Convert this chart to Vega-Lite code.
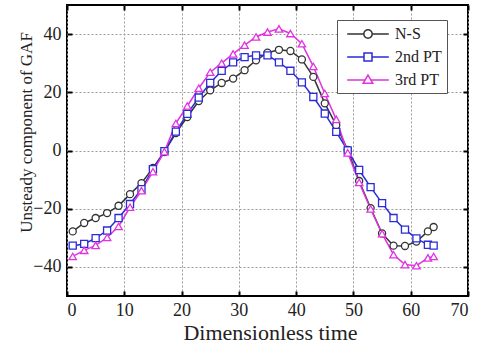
{
  "$schema": "https://vega.github.io/schema/vega-lite/v6.json",
  "width": 401,
  "height": 291,
  "autosize": {"type": "none"},
  "padding": {"left": 67, "top": 5, "right": 11, "bottom": 51},
  "background": "white",
  "config": {
    "font": "Liberation Serif",
    "view": {"stroke": "black", "strokeWidth": 2},
    "axis": {
      "labelFont": "Liberation Serif",
      "titleFont": "Liberation Serif",
      "labelColor": "#222222",
      "titleColor": "#222222",
      "titleFontWeight": "normal",
      "domain": false,
      "tickColor": "black",
      "tickWidth": 2,
      "tickSize": -5,
      "gridColor": "#9a9a9a",
      "gridDash": [2, 2],
      "gridWidth": 1
    }
  },
  "datasets": {
    "gaf": [
      {"s": "N-S", "t": 1, "v": -27.8}, {"s": "N-S", "t": 3, "v": -24.9}, {"s": "N-S", "t": 5, "v": -23.2}, {"s": "N-S", "t": 7, "v": -21.5},
      {"s": "N-S", "t": 9, "v": -19}, {"s": "N-S", "t": 11, "v": -15}, {"s": "N-S", "t": 13, "v": -11.2}, {"s": "N-S", "t": 15, "v": -6},
      {"s": "N-S", "t": 17, "v": -0.5}, {"s": "N-S", "t": 19, "v": 6}, {"s": "N-S", "t": 21, "v": 11.5}, {"s": "N-S", "t": 23, "v": 17},
      {"s": "N-S", "t": 25, "v": 20.7}, {"s": "N-S", "t": 27, "v": 23.2}, {"s": "N-S", "t": 29, "v": 24.7}, {"s": "N-S", "t": 31, "v": 27.6},
      {"s": "N-S", "t": 33, "v": 31.0}, {"s": "N-S", "t": 35, "v": 33.6}, {"s": "N-S", "t": 37, "v": 34.6}, {"s": "N-S", "t": 39, "v": 34.2},
      {"s": "N-S", "t": 41, "v": 31.3}, {"s": "N-S", "t": 43, "v": 25.3}, {"s": "N-S", "t": 45, "v": 16.2}, {"s": "N-S", "t": 47, "v": 8.7},
      {"s": "N-S", "t": 49, "v": 0.2}, {"s": "N-S", "t": 51, "v": -10.5}, {"s": "N-S", "t": 53, "v": -19.8}, {"s": "N-S", "t": 55, "v": -28.5},
      {"s": "N-S", "t": 57, "v": -32.7}, {"s": "N-S", "t": 59, "v": -32.8}, {"s": "N-S", "t": 61, "v": -31.3}, {"s": "N-S", "t": 63, "v": -27.8},
      {"s": "N-S", "t": 64, "v": -26.3},
      {"s": "2nd PT", "t": 1, "v": -32.7}, {"s": "2nd PT", "t": 3, "v": -32.1}, {"s": "2nd PT", "t": 5, "v": -30.1}, {"s": "2nd PT", "t": 7, "v": -27.5},
      {"s": "2nd PT", "t": 9, "v": -23.2}, {"s": "2nd PT", "t": 11, "v": -18.4}, {"s": "2nd PT", "t": 13, "v": -13.3}, {"s": "2nd PT", "t": 15, "v": -6.4},
      {"s": "2nd PT", "t": 17, "v": -0.2}, {"s": "2nd PT", "t": 19, "v": 6.5}, {"s": "2nd PT", "t": 21, "v": 12.6}, {"s": "2nd PT", "t": 23, "v": 18.2},
      {"s": "2nd PT", "t": 25, "v": 23.2}, {"s": "2nd PT", "t": 27, "v": 27.4}, {"s": "2nd PT", "t": 29, "v": 30.3}, {"s": "2nd PT", "t": 31, "v": 32.1},
      {"s": "2nd PT", "t": 33, "v": 32.7}, {"s": "2nd PT", "t": 35, "v": 32.7}, {"s": "2nd PT", "t": 37, "v": 30.3}, {"s": "2nd PT", "t": 39, "v": 27.4},
      {"s": "2nd PT", "t": 41, "v": 23.4}, {"s": "2nd PT", "t": 43, "v": 18.4}, {"s": "2nd PT", "t": 45, "v": 12.7}, {"s": "2nd PT", "t": 47, "v": 6.4},
      {"s": "2nd PT", "t": 49, "v": 0}, {"s": "2nd PT", "t": 51, "v": -6.7}, {"s": "2nd PT", "t": 53, "v": -12.6}, {"s": "2nd PT", "t": 55, "v": -18.1},
      {"s": "2nd PT", "t": 57, "v": -23.2}, {"s": "2nd PT", "t": 59, "v": -27.2}, {"s": "2nd PT", "t": 61, "v": -30.2}, {"s": "2nd PT", "t": 63, "v": -32.4},
      {"s": "2nd PT", "t": 64, "v": -32.7},
      {"s": "3rd PT", "t": 1, "v": -36.4}, {"s": "3rd PT", "t": 3, "v": -34.3}, {"s": "3rd PT", "t": 5, "v": -32.6}, {"s": "3rd PT", "t": 7, "v": -29.9},
      {"s": "3rd PT", "t": 9, "v": -26.1}, {"s": "3rd PT", "t": 11, "v": -19.5}, {"s": "3rd PT", "t": 13, "v": -13.8}, {"s": "3rd PT", "t": 15, "v": -7.3},
      {"s": "3rd PT", "t": 17, "v": -0.4}, {"s": "3rd PT", "t": 19, "v": 9.3}, {"s": "3rd PT", "t": 21, "v": 15.3}, {"s": "3rd PT", "t": 23, "v": 21.4},
      {"s": "3rd PT", "t": 25, "v": 26.9}, {"s": "3rd PT", "t": 27, "v": 30}, {"s": "3rd PT", "t": 29, "v": 33.2}, {"s": "3rd PT", "t": 31, "v": 36.2},
      {"s": "3rd PT", "t": 33, "v": 39}, {"s": "3rd PT", "t": 35, "v": 40.7}, {"s": "3rd PT", "t": 37, "v": 41.8}, {"s": "3rd PT", "t": 39, "v": 40.2},
      {"s": "3rd PT", "t": 41, "v": 36.7}, {"s": "3rd PT", "t": 43, "v": 28.9}, {"s": "3rd PT", "t": 45, "v": 19.6}, {"s": "3rd PT", "t": 47, "v": 10.7},
      {"s": "3rd PT", "t": 49, "v": -0.8}, {"s": "3rd PT", "t": 51, "v": -11}, {"s": "3rd PT", "t": 53, "v": -20.1}, {"s": "3rd PT", "t": 55, "v": -28.6},
      {"s": "3rd PT", "t": 57, "v": -35.8}, {"s": "3rd PT", "t": 59, "v": -39.2}, {"s": "3rd PT", "t": 61, "v": -39.6}, {"s": "3rd PT", "t": 63, "v": -36.9},
      {"s": "3rd PT", "t": 64, "v": -36.4}
    ]
  },
  "data": {"name": "gaf"},
  "resolve": {"axis": {"x": "independent", "y": "independent"}},
  "layer": [
    {
      "mark": {"type": "line", "strokeWidth": 1.5},
      "encoding": {
        "x": {
          "field": "t", "type": "quantitative",
          "scale": {"domain": [0, 70], "nice": false, "zero": false},
          "axis": {"orient": "bottom", "values": [0, 10, 20, 30, 40, 50, 60, 70], "ticks": false, "title": "Dimensionless time", "titleFont": "Liberation Serif", "titleFontSize": 22, "titleBaseline": "alphabetic", "titleY": 43, "titleX": 203, "labelFont": "Liberation Serif", "labelFontSize": 18, "grid": true, "labelPadding": 5}
        },
        "y": {
          "field": "v", "type": "quantitative",
          "scale": {"domain": [-50, 50], "nice": false},
          "axis": {"orient": "left", "values": [-40, -20, 0, 20, 40], "ticks": false, "title": "Unsteady component of GAF", "titleFont": "Liberation Serif", "titleFontSize": 17, "titleAngle": 270, "titleAlign": "center", "titleBaseline": "alphabetic", "titleX": -36, "titleY": 127, "labelFont": "Liberation Serif", "labelFontSize": 18, "grid": true, "labelPadding": 6}
        },
        "color": {
          "field": "s", "type": "nominal",
          "scale": {"domain": ["N-S", "2nd PT", "3rd PT"], "range": ["#333333", "#2b2bd9", "#e033e0"]},
          "legend": {
            "orient": "none", "legendX": 270, "legendY": 15, "title": null,
            "padding": 5, "strokeColor": "#555555", "fillColor": "white",
            "labelFont": "Liberation Serif", "labelFontSize": 16, "labelColor": "#222222",
            "symbolSize": 256, "symbolStrokeWidth": 1.5, "symbolOffset": 17, "labelOffset": 18, "rowPadding": 6,
            "encode": {
              "symbols": {
                "update": {
                  "shape": {"signal": "datum.value === 'N-S' ? 'M-2.6,0H-0.52M0.52,0H2.6M-0.52,0A0.52,0.52 0 1,1 0.52,0A0.52,0.52 0 1,1 -0.52,0Z' : datum.value === '2nd PT' ? 'M-2.6,0H-0.5M0.5,0H2.6M-0.5,-0.5H0.5V0.5H-0.5Z' : 'M-2.6,0H-0.36M0.36,0H2.6M0,-0.62L0.6,0.42H-0.6Z'"},
                  "fill": {"value": "white"}
                }
              }
            }
          }
        }
      }
    },
    {
      "transform": [{"filter": "datum.s === 'N-S'"}],
      "mark": {"type": "point", "shape": "circle", "filled": true, "fill": "white", "stroke": "#333333", "strokeWidth": 1.3, "size": 50, "opacity": 1},
      "encoding": {
        "x": {
          "field": "t", "type": "quantitative",
          "axis": {"orient": "top", "values": [0, 10, 20, 30, 40, 50, 60, 70], "labels": false, "title": null, "grid": false}
        },
        "y": {
          "field": "v", "type": "quantitative",
          "axis": {"orient": "right", "values": [-40, -20, 0, 20, 40], "labels": false, "title": null, "grid": false}
        }
      }
    },
    {
      "transform": [{"filter": "datum.s === '2nd PT'"}],
      "mark": {"type": "point", "shape": "square", "filled": true, "fill": "white", "stroke": "#2b2bd9", "strokeWidth": 1.3, "size": 50, "opacity": 1},
      "encoding": {
        "x": {
          "field": "t", "type": "quantitative",
          "axis": {"orient": "bottom", "values": [0, 10, 20, 30, 40, 50, 60, 70], "labels": false, "title": null, "grid": false}
        },
        "y": {
          "field": "v", "type": "quantitative",
          "axis": {"orient": "left", "values": [-40, -20, 0, 20, 40], "labels": false, "title": null, "grid": false}
        }
      }
    },
    {
      "transform": [{"filter": "datum.s === '3rd PT'"}],
      "mark": {"type": "point", "shape": "triangle-up", "filled": true, "fill": "white", "stroke": "#e033e0", "strokeWidth": 1.3, "size": 55, "opacity": 1},
      "encoding": {
        "x": {"field": "t", "type": "quantitative", "axis": null},
        "y": {"field": "v", "type": "quantitative", "axis": null}
      }
    }
  ]
}
